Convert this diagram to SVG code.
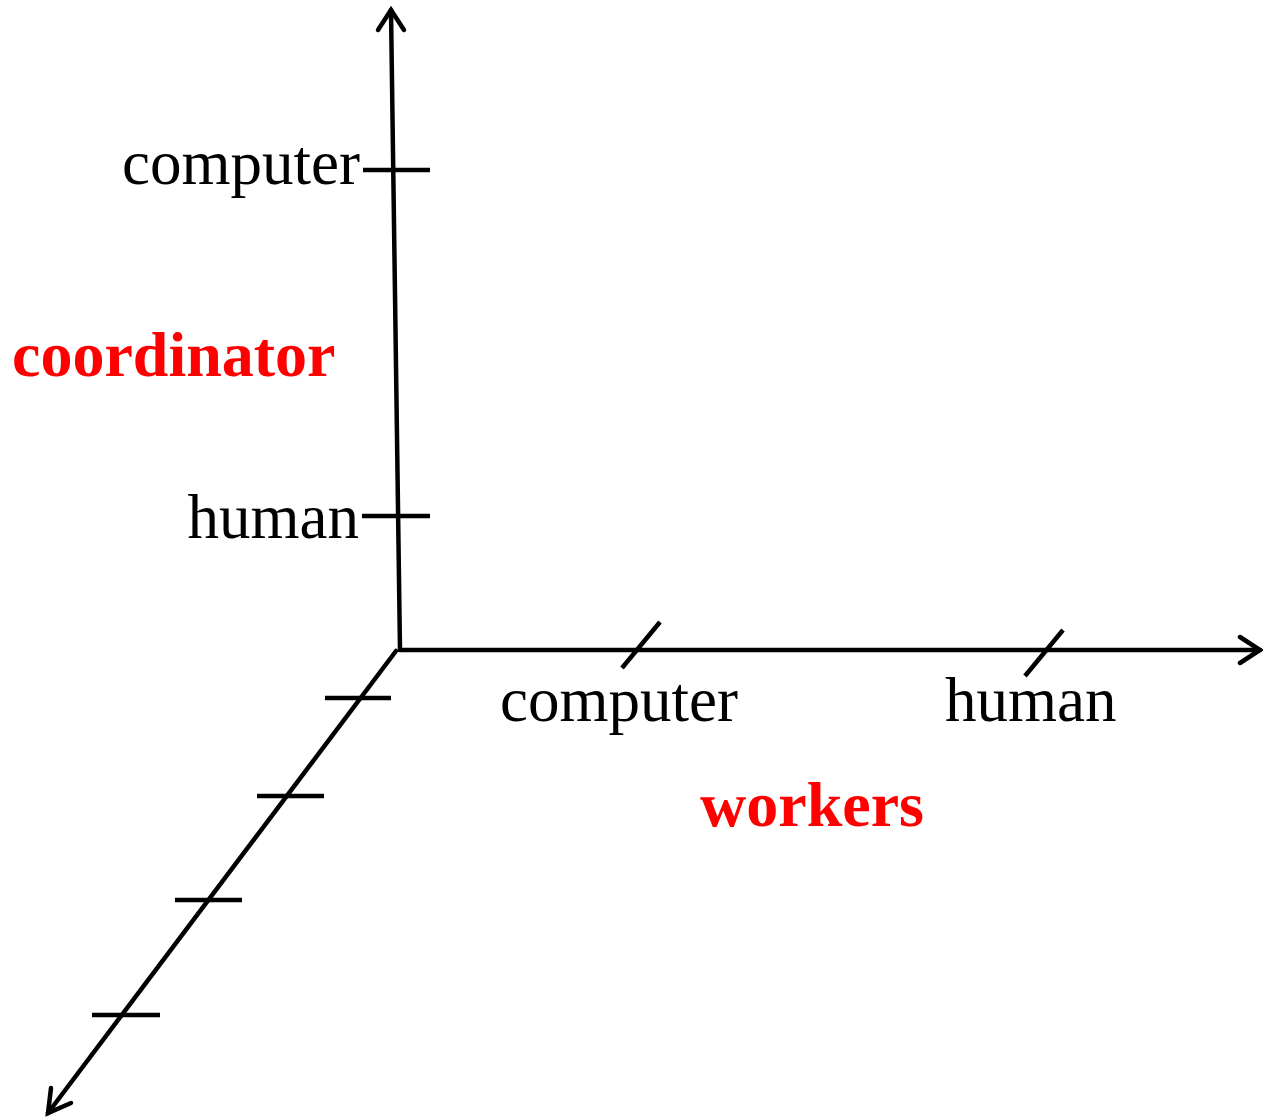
<svg xmlns="http://www.w3.org/2000/svg" width="1263" height="1118" viewBox="0 0 1263 1118">
  <style>
    .axis { stroke: #000; stroke-width: 4.5; fill: none; stroke-linecap: round; }
    .tick { stroke: #000; stroke-width: 4.5; fill: none; }
    .lbl { font-family: "Liberation Serif", "Times New Roman", serif; font-size: 63px; fill: #000; }
    .title { font-family: "Liberation Serif", "Times New Roman", serif; font-size: 64px; font-weight: bold; fill: #ff0000; }
  </style>
  <rect width="1263" height="1118" fill="#fff"/>

  <g id="connectors">
    <!-- vertical axis (coordinator) -->
    <path class="axis" d="M400,650 L391,10"/>
    <path class="axis" d="M378,30 L391,10 L404,30"/>
    <!-- horizontal axis (workers) -->
    <path class="axis" d="M400,650 L1260,650"/>
    <path class="axis" d="M1240,637 L1260,650 L1240,663"/>
    <!-- depth axis -->
    <path class="axis" d="M396,651 L48,1113"/>
    <path class="axis" d="M51,1088 L48,1113 L71,1103"/>
  </g>

  <g id="coordinator-ticks">
    <line class="tick" x1="363" y1="170" x2="430" y2="170"/>
    <line class="tick" x1="362" y1="516" x2="430" y2="516"/>
  </g>

  <g id="worker-ticks">
    <line class="tick" x1="622" y1="668" x2="660" y2="622"/>
    <line class="tick" x1="1025" y1="676" x2="1063" y2="630"/>
  </g>

  <g id="depth-ticks">
    <line class="tick" x1="325" y1="698" x2="391" y2="698"/>
    <line class="tick" x1="257" y1="796" x2="324" y2="796"/>
    <line class="tick" x1="175" y1="900" x2="242" y2="900"/>
    <line class="tick" x1="92" y1="1015" x2="160" y2="1015"/>
  </g>

  <g id="coordinator">
    <text class="title" x="12" y="376">coordinator</text>
    <text class="lbl" x="360" y="184" text-anchor="end">computer</text>
    <text class="lbl" x="359" y="538" text-anchor="end">human</text>
  </g>

  <g id="workers">
    <text class="title" x="700" y="826">workers</text>
    <text class="lbl" x="500" y="721">computer</text>
    <text class="lbl" x="945" y="721">human</text>
  </g>
</svg>
